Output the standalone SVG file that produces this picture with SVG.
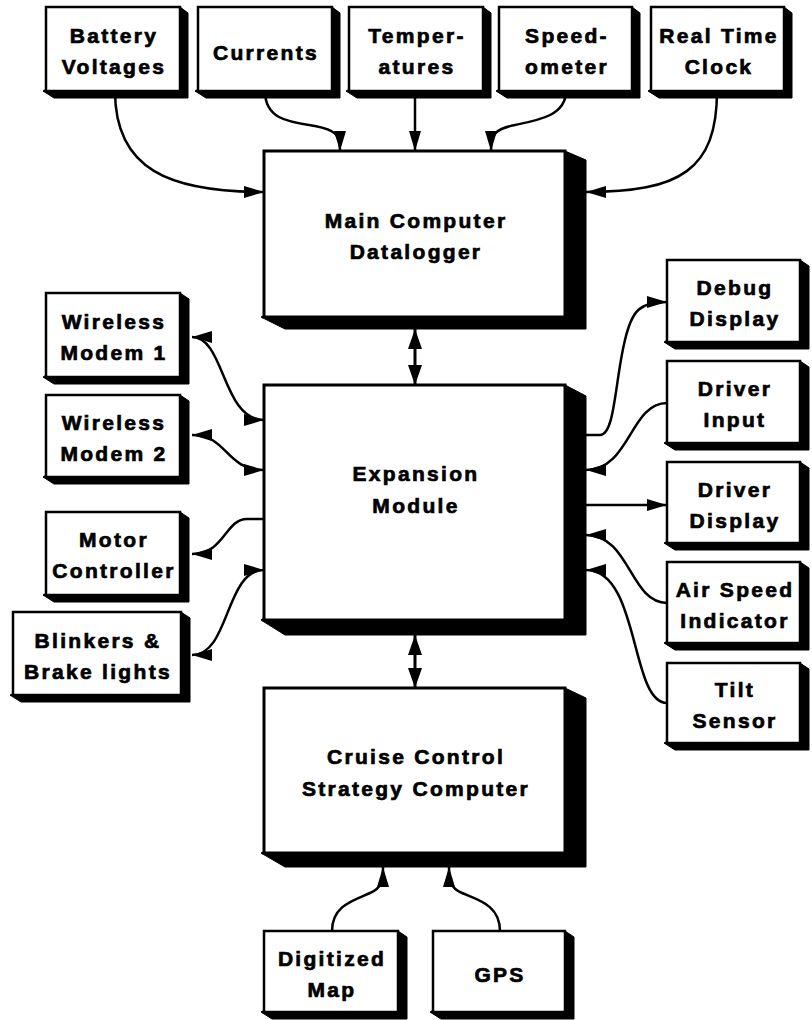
<svg xmlns="http://www.w3.org/2000/svg" width="812" height="1020" viewBox="0 0 812 1020">
<style>
.box{fill:#fff;stroke:#000;stroke-width:2.5}
.big{fill:#fff;stroke:#000;stroke-width:3}
.sh{fill:#000;stroke:#000;stroke-width:1}
.t{font-family:"Liberation Sans",Arial,Helvetica,sans-serif;font-weight:bold;font-size:21px;letter-spacing:2.3px;text-anchor:middle;fill:#000;stroke:#000;stroke-width:0.7px}
.c{fill:none;stroke:#000;stroke-width:2.5}
.cb{fill:none;stroke:#000;stroke-width:3}
.e{marker-end:url(#arr)}
.b{marker-start:url(#arr);marker-end:url(#arr)}
.bb{marker-start:url(#arrb);marker-end:url(#arrb)}
</style>
<defs>
<marker id="arr" viewBox="0 0 20 12" markerWidth="20" markerHeight="12" refX="20" refY="6" orient="auto-start-reverse" markerUnits="userSpaceOnUse"><path d="M0,0 L20,6 L0,12 Z" fill="#000"/></marker>
<marker id="arrb" viewBox="0 0 20 14" markerWidth="20" markerHeight="14" refX="20" refY="7" orient="auto-start-reverse" markerUnits="userSpaceOnUse"><path d="M0,0 L20,7 L0,14 Z" fill="#000"/></marker>
</defs>
<rect width="812" height="1020" fill="#fff"/>
<g id="connectors">
<path class="c e" d="M115,91 C115,170 170,192 264,192"/>
<path class="c e" d="M265,91 C265,120 290,122 315,126 C335,130 340,134 340,151"/>
<path class="c e" d="M415,91 L415,151"/>
<path class="c e" d="M566,91 C566,115 540,120 515,125 C495,129 491,134 491,151"/>
<path class="c e" d="M717,91 C717,170 680,192 586,192"/>
<path class="cb bb" d="M415,329 L415,385"/>
<path class="cb bb" d="M415,635 L415,688"/>
<path class="c b" d="M192,337 C225,337 222,420 264,420"/>
<path class="c b" d="M192,435 C228,435 225,470 264,470"/>
<path class="c e" d="M264,519 L247,519 C225,519 225,554 192,554"/>
<path class="c b" d="M264,570 C225,570 230,655 192,655"/>
<path class="c e" d="M586,435 L600,435 C615,435 615,380 625,340 C632,310 640,302 667,302"/>
<path class="c e" d="M667,403 C630,403 630,470 586,470"/>
<path class="c e" d="M586,505 L667,505"/>
<path class="c e" d="M667,603 C630,603 630,535 586,535"/>
<path class="c e" d="M667,703 C630,703 640,570 586,570"/>
<path class="c e" d="M332,931 C332,905 355,900 370,893 C382,888 383,880 383,867"/>
<path class="c e" d="M500,931 C500,905 478,900 462,893 C450,888 449,880 449,867"/>
</g>
<g id="battery">
<polygon class="sh" points="180,7 188,13 188,98 54,98 43,91"/>
<rect class="box" x="46" y="7" width="134" height="84"/>
<text class="t" x="114" y="43">Battery</text>
<text class="t" x="114" y="74">Voltages</text>
</g>
<g id="currents">
<polygon class="sh" points="332,7 340,13 340,98 206,98 195,91"/>
<rect class="box" x="198" y="7" width="134" height="84"/>
<text class="t" x="266" y="60">Currents</text>
</g>
<g id="temperatures">
<polygon class="sh" points="483,7 491,13 491,98 357,98 346,91"/>
<rect class="box" x="349" y="7" width="134" height="84"/>
<text class="t" x="417" y="43">Temper-</text>
<text class="t" x="417" y="74">atures</text>
</g>
<g id="speedometer">
<polygon class="sh" points="632,7 640,13 640,98 507,98 496,91"/>
<rect class="box" x="499" y="7" width="133" height="84"/>
<text class="t" x="567" y="43">Speed-</text>
<text class="t" x="567" y="74">ometer</text>
</g>
<g id="rtc">
<polygon class="sh" points="784,7 792,13 792,98 659,98 648,91"/>
<rect class="box" x="651" y="7" width="133" height="84"/>
<text class="t" x="719" y="43">Real Time</text>
<text class="t" x="719" y="74">Clock</text>
</g>
<g id="main">
<polygon class="sh" points="565,151 586,160 586,329 285,329 261,317"/>
<rect class="big" x="264" y="151" width="301" height="166"/>
<text class="t" x="416" y="228">Main Computer</text>
<text class="t" x="416" y="259">Datalogger</text>
</g>
<g id="expansion">
<polygon class="sh" points="565,385 586,396 586,635 285,635 261,620"/>
<rect class="big" x="264" y="385" width="301" height="235"/>
<text class="t" x="416" y="481">Expansion</text>
<text class="t" x="416" y="513">Module</text>
</g>
<g id="cruise">
<polygon class="sh" points="565,688 586,698 586,867 285,867 261,853"/>
<rect class="big" x="264" y="688" width="301" height="165"/>
<text class="t" x="416" y="764">Cruise Control</text>
<text class="t" x="416" y="796">Strategy Computer</text>
</g>
<g id="wm1">
<polygon class="sh" points="180,293 189,299 189,384 54,384 43,377"/>
<rect class="box" x="46" y="293" width="134" height="84"/>
<text class="t" x="114" y="329">Wireless</text>
<text class="t" x="114" y="360">Modem 1</text>
</g>
<g id="wm2">
<polygon class="sh" points="180,395 189,401 189,484 54,484 43,477"/>
<rect class="box" x="46" y="395" width="134" height="82"/>
<text class="t" x="114" y="430">Wireless</text>
<text class="t" x="114" y="461">Modem 2</text>
</g>
<g id="motor">
<polygon class="sh" points="180,512 189,518 189,602 54,602 43,595"/>
<rect class="box" x="46" y="512" width="134" height="83"/>
<text class="t" x="114" y="547">Motor</text>
<text class="t" x="114" y="578">Controller</text>
</g>
<g id="blinkers">
<polygon class="sh" points="181,612 190,618 190,702 21,702 10,695"/>
<rect class="box" x="13" y="612" width="168" height="83"/>
<text class="t" x="98" y="648">Blinkers &amp;</text>
<text class="t" x="98" y="679">Brake lights</text>
</g>
<g id="debug">
<polygon class="sh" points="800,260 809,266 809,349 675,349 664,342"/>
<rect class="box" x="667" y="260" width="133" height="82"/>
<text class="t" x="735" y="295">Debug</text>
<text class="t" x="735" y="326">Display</text>
</g>
<g id="driverinput">
<polygon class="sh" points="800,361 809,367 809,450 675,450 664,443"/>
<rect class="box" x="667" y="361" width="133" height="82"/>
<text class="t" x="735" y="396">Driver</text>
<text class="t" x="735" y="427">Input</text>
</g>
<g id="driverdisplay">
<polygon class="sh" points="800,462 809,468 809,550 675,550 664,543"/>
<rect class="box" x="667" y="462" width="133" height="81"/>
<text class="t" x="735" y="497">Driver</text>
<text class="t" x="735" y="528">Display</text>
</g>
<g id="airspeed">
<polygon class="sh" points="800,562 809,568 809,650 675,650 664,643"/>
<rect class="box" x="667" y="562" width="133" height="81"/>
<text class="t" x="735" y="597">Air Speed</text>
<text class="t" x="735" y="628">Indicator</text>
</g>
<g id="tilt">
<polygon class="sh" points="800,663 809,669 809,750 675,750 664,743"/>
<rect class="box" x="667" y="663" width="133" height="80"/>
<text class="t" x="735" y="697">Tilt</text>
<text class="t" x="735" y="728">Sensor</text>
</g>
<g id="map">
<polygon class="sh" points="398,931 407,937 407,1019 272,1019 261,1012"/>
<rect class="box" x="264" y="931" width="134" height="81"/>
<text class="t" x="332" y="966">Digitized</text>
<text class="t" x="332" y="997">Map</text>
</g>
<g id="gps">
<polygon class="sh" points="565,931 574,937 574,1019 441,1019 430,1012"/>
<rect class="box" x="433" y="931" width="132" height="81"/>
<text class="t" x="500" y="982">GPS</text>
</g>
</svg>
